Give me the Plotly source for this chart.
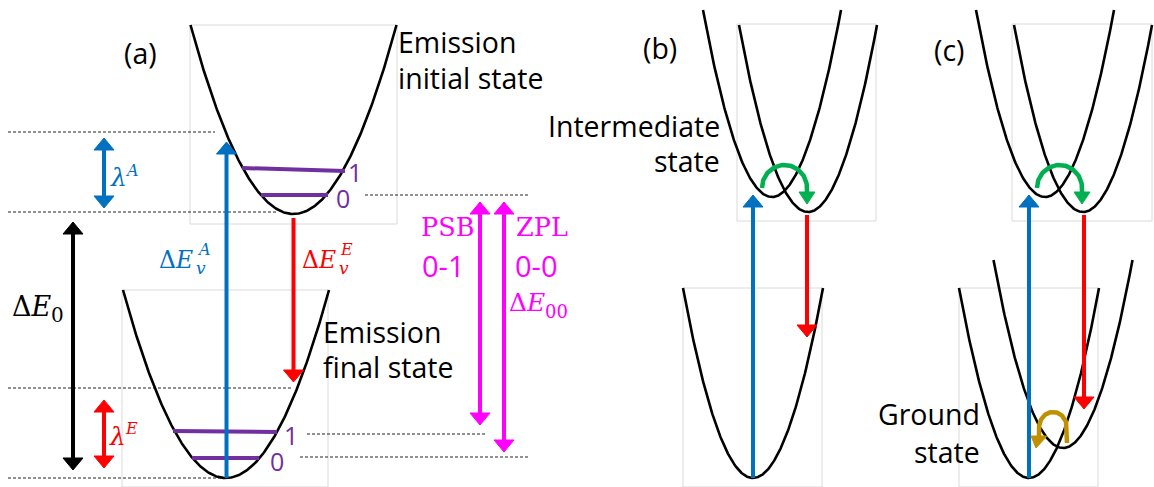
import numpy as np
import plotly.graph_objects as go

W, H = 1154, 487

# ---------------- data (pixel-like diagram coordinates) ----------------
# potential wells: vertex x, vertex y, rim y, half width at rim
parab_vx = [293.5, 226, 772, 808, 753, 1045, 1083, 1029, 1063]
parab_vy = [214, 478, 197, 212, 478, 197, 212, 478, 448]
parab_top = [25, 290, 10, 25, 288, 10, 25, 288, 260]
parab_hw = [103, 103, 69, 69, 70, 69, 69, 70, 69.5]

# light grey frames
box_x0 = [190, 122, 737, 683, 1012, 959]
box_x1 = [397, 328, 876, 822, 1152, 1098]
box_y0 = [25, 290, 24, 288, 24, 288]
box_y1 = [224, 487, 221, 487, 221, 487]

# dashed reference levels
dash_x0 = [8, 8, 365, 8, 8, 307, 300]
dash_x1 = [215, 277, 530, 293, 226, 487, 530]
dash_y = [132, 212, 195, 388, 478, 434, 457]

# vibrational levels
lev_x0 = [242, 261, 173, 192]
lev_x1 = [345, 328, 277, 259]
lev_y0 = [168, 195, 431, 458]
lev_y1 = [171, 195, 432, 458]
lev_labels = ["1", "0", "1", "0"]
lev_label_x = [347, 335, 283, 269]
lev_label_y = [172, 198, 435, 461]

# straight arrows
BLUE, RED, MAG, BLK = "#0070C0", "#FF0000", "#FF00FF", "#000000"
PURPLE, GREEN, GOLD = "#7030A0", "#00B050", "#BF9000"
arr_x = [226.5, 293.5, 73, 104, 104, 480, 504, 753, 807, 1029, 1084]
arr_tail = [478, 218, 222, 138, 400, 202, 202, 478, 215, 478, 215]
arr_tip = [142, 382, 470, 208, 468, 425, 452, 195, 337, 195, 409]
arr_double = [False, False, True, True, True, True, True, False, False, False, False]
arr_color = [BLUE, RED, BLK, BLUE, RED, MAG, MAG, BLUE, RED, BLUE, RED]

# curved arrows: centre, radii, start angle, end angle, start leg, end leg, head tip offset
carc_cx = [784.5, 1059.5, 1053]
carc_cy = [188, 188, 428]
carc_rx = [22.5, 22.5, 14]
carc_ry = [23, 23, 16]
carc_a0 = [180, 180, 0]
carc_a1 = [0, 0, 180]
carc_leg0 = [0, 0, 15]
carc_leg1 = [4, 4, 8]
carc_tipdx = [0, 0, -3]
carc_color = [GREEN, GREEN, GOLD]

# text
sans_text = ["(a)", "(b)", "(c)", "Emission", "initial state", "Emission", "final state",
             "Intermediate", "state", "Ground", "state"]
sans_x = [140, 660, 949, 397, 397, 322, 322, 721, 721, 981, 981]
sans_y = [53, 48, 50, 42, 78, 332, 367, 126, 161, 414, 452]
sans_anchor = ["center", "center", "center", "left", "left", "left", "left",
               "right", "right", "right", "right"]

# ---------------- figure ----------------
fig = go.Figure()

for x0, x1, y0, y1 in zip(box_x0, box_x1, box_y0, box_y1):
    fig.add_trace(go.Scatter(x=[x0, x1, x1, x0, x0], y=[y0, y0, y1, y1, y0], mode="lines",
                             line=dict(color="#DADADA", width=1), hoverinfo="skip"))

for x0, x1, y in zip(dash_x0, dash_x1, dash_y):
    fig.add_trace(go.Scatter(x=[x0, x1], y=[y, y], mode="lines",
                             line=dict(color="#222222", width=1, dash="3px,2px"), hoverinfo="skip"))

for vx, vy, ty, hw in zip(parab_vx, parab_vy, parab_top, parab_hw):
    xs = np.linspace(vx - hw, vx + hw, 241)
    ys = vy - (vy - ty) * ((xs - vx) / hw) ** 2
    fig.add_trace(go.Scatter(x=xs, y=ys, mode="lines", line=dict(color="black", width=2.6),
                             hoverinfo="skip"))

for x0, x1, y0, y1 in zip(lev_x0, lev_x1, lev_y0, lev_y1):
    fig.add_trace(go.Scatter(x=[x0, x1], y=[y0, y1], mode="lines",
                             line=dict(color=PURPLE, width=4), hoverinfo="skip"))

HL, HW = 12, 20


def head(x, tip, d, col, hw=HW, hl=HL, tipdx=0.0):
    fig.add_trace(go.Scatter(x=[x - hw / 2, x + hw / 2, x + tipdx, x - hw / 2],
                             y=[tip - d * hl, tip - d * hl, tip, tip - d * hl],
                             mode="lines", fill="toself", fillcolor=col,
                             line=dict(color=col, width=1), hoverinfo="skip"))


for x, ta, tp, dbl, col in zip(arr_x, arr_tail, arr_tip, arr_double, arr_color):
    d = 1 if tp > ta else -1
    s0 = ta + d * HL if dbl else ta
    s1 = tp - d * HL
    fig.add_trace(go.Scatter(x=[x, x], y=[s0, s1], mode="lines",
                             line=dict(color=col, width=4), hoverinfo="skip"))
    head(x, tp, d, col)
    if dbl:
        head(x, ta, -d, col)

for cx, cy, rx, ry, a0, a1, l0, l1, tdx, col in zip(carc_cx, carc_cy, carc_rx, carc_ry, carc_a0,
                                                   carc_a1, carc_leg0, carc_leg1, carc_tipdx, carc_color):
    t = np.radians(np.linspace(a0, a1, 60))
    xs = list(cx + rx * np.cos(t))
    ys = list(cy - ry * np.sin(t))
    if l0:
        xs = [xs[0]] + xs
        ys = [ys[0] + l0] + ys
    xe, ye = xs[-1], ys[-1]
    xs.append(xe)
    ys.append(ye + l1)
    fig.add_trace(go.Scatter(x=xs, y=ys, mode="lines", line=dict(color=col, width=4.5),
                             hoverinfo="skip"))
    head(xe, ye + l1 + 12, 1, col, hw=16, hl=12, tipdx=tdx)

SANS = "Open Sans"
SERIF = "DejaVu Serif"


def txt(s, x, y, size, color="black", family=SANS, anchor="left"):
    fig.add_annotation(text=s, x=x, y=y, xref="x", yref="y", showarrow=False,
                       xanchor=anchor, yanchor="middle", borderpad=0,
                       font=dict(family=family, size=size, color=color))


for s, x, y, a in zip(sans_text, sans_x, sans_y, sans_anchor):
    txt(s, x, y, 28.5, anchor=a)

for s, x, y in zip(lev_labels, lev_label_x, lev_label_y):
    txt(s, x, y, 25, PURPLE)

# magenta labels
txt("PSB", 420, 227, 25.5, MAG, SERIF)
txt("ZPL", 515, 227, 25.5, MAG, SERIF)
txt("0-1", 421, 265, 29, MAG)
txt("0-0", 514, 265, 29, MAG)
txt("Δ<i>E</i>", 508, 302, 25, MAG, SERIF)
txt("00", 544, 311, 18, MAG, SERIF)

# math labels
txt("Δ<i>E</i>", 11, 306, 27, BLK, SERIF)
txt("0", 50, 315, 20, BLK, SERIF)
txt("Δ<i>E</i>", 158, 260, 23.5, BLUE, SERIF)
txt("<i>A</i>", 196, 249, 16, BLUE, SERIF)
txt("<i>v</i>", 195, 268, 17, BLUE, SERIF)
txt("Δ<i>E</i>", 301, 260, 23.5, RED, SERIF)
txt("<i>E</i>", 339, 249, 16, RED, SERIF)
txt("<i>v</i>", 338, 268, 17, RED, SERIF)
txt("<i>λ</i>", 109, 177, 25, BLUE, SERIF)
txt("<i>A</i>", 124, 170, 16, BLUE, SERIF)
txt("<i>λ</i>", 108, 436, 25, RED, SERIF)
txt("<i>E</i>", 124, 428, 16, RED, SERIF)

fig.update_layout(
    width=W, height=H, margin=dict(l=0, r=0, t=0, b=0),
    paper_bgcolor="white", plot_bgcolor="white", showlegend=False,
    xaxis=dict(range=[0, W], visible=False, fixedrange=True),
    yaxis=dict(range=[H, 0], visible=False, fixedrange=True),
)

fig.write_html("out.html", config={"displayModeBar": False},
               post_script="document.body.style.margin='0';document.body.style.overflow='hidden';")
